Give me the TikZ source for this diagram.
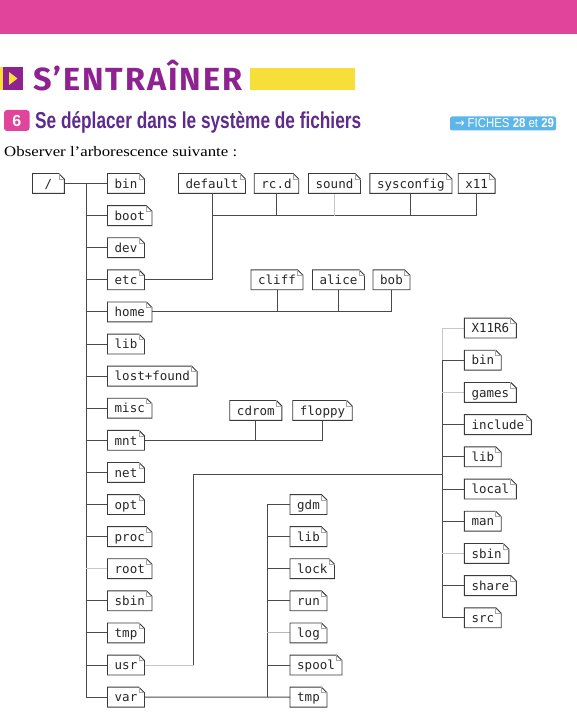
\documentclass[tikz,border=0pt]{standalone}
\usepackage{fontspec}
\usepackage{graphicx}
\setmainfont{Liberation Serif}
\newfontfamily\monofont{DejaVu Sans Mono}
\newfontfamily\titlefont[LetterSpace=6]{Fira Sans}
\newfontfamily\headfont{Liberation Sans}
\newfontfamily\symfont{DejaVu Sans}
\definecolor{bandpink}{HTML}{E1449B}
\definecolor{titlepurple}{HTML}{8E2290}
\definecolor{headpurple}{HTML}{5E2A8C}
\definecolor{hiyellow}{HTML}{F7DF3A}
\definecolor{badgeblue}{HTML}{5DB6EA}
\definecolor{linedark}{HTML}{4A4A4A}
\definecolor{linefaint}{HTML}{C8C8C8}
\definecolor{boxline}{HTML}{3A3A3A}
\begin{document}
\begin{tikzpicture}[x=1pt,y=-1pt,
  dir/.style={font=\monofont\fontsize{12.5}{14}\selectfont, text=black!85,
    inner xsep=7pt, inner ysep=0pt, minimum height=19.5pt,
    text height=11pt, text depth=1.5pt},
  conn/.style={draw=linedark, line width=1pt},
  faint/.style={draw=linefaint, line width=1pt},
  outline/.style={draw=boxline, line width=0.9pt, line join=miter},
  fold/.style={draw=gray!70, line width=0.7pt}]
\useasboundingbox (0,0) rectangle (577,719);
% header
\fill[bandpink] (0,0) rectangle (577,34.5);
\fill[hiyellow] (0,67) rectangle (3,90);
\fill[titlepurple] (3,67) rectangle (23,90);
\fill[hiyellow] (9,72) -- (17.5,78.5) -- (9,85) -- cycle;
\node[anchor=base west, inner sep=0, text=titlepurple] (title) at (33,90.5)
  {\resizebox{209pt}{\height}{\titlefont\bfseries\fontsize{32}{32}\selectfont S’ENTRAÎNER}};
\fill[hiyellow] (250,68) rectangle (355,90.5);
\fill[bandpink, rounded corners=3pt] (4,110) rectangle (29.5,131);
\node[text=white, inner sep=0, font=\headfont\bfseries\fontsize{16}{16}\selectfont] (num) at (16.8,120.5) {6};
\node[anchor=base west, inner sep=0, text=headpurple] (head) at (35,129)
  {\resizebox{326pt}{\height}{\headfont\bfseries\fontsize{23}{23}\selectfont Se déplacer dans le système de fichiers}};
\fill[badgeblue, rounded corners=2pt] (450,116.5) rectangle (556,130.5);
\node[text=white, inner sep=0, anchor=base] (fiches) at (504.5,128)
  {\resizebox{99pt}{\height}{\headfont\fontsize{13}{13}\selectfont{\symfont →} FICHES \textbf{28} et \textbf{29}}};
\node[anchor=base west, inner sep=0, text=black] (obs) at (4,157)
  {\resizebox{233pt}{\height}{\fontsize{14.5}{15}\selectfont Observer l’arborescence suivante :}};
% tree
\node[dir, anchor=west, minimum width=31.5pt] (r) at (32.5,183.5) {/};
\foreach \nm/\lb [count=\i from 0] in {bin/bin,boot/boot,dev/dev,etc/etc,home/home,lib/lib,lost/lost+found,misc/misc,mnt/mnt,net/net,opt/opt,proc/proc,rootd/root,sbin/sbin,tmp/tmp,usr/usr,var/var}
  \node[dir, anchor=west] (\nm) at (107.5,183.5+32.1*\i) {\lb};
% etc children
\node[dir] (e1) at (212,183.5) {default};
\node[dir] (e2) at (276.5,183.5) {rc.d};
\node[dir] (e3) at (334.5,183.5) {sound};
\node[dir] (e4) at (410.9,183.5) {sysconfig};
\node[dir] (e5) at (476.7,183.5) {x11};
% home children
\node[dir] (h1) at (277,279.8) {cliff};
\node[dir] (h2) at (338.5,279.8) {alice};
\node[dir] (h3) at (391.5,279.8) {bob};
% mnt children
\node[dir] (m1) at (255.8,410.4) {cdrom};
\node[dir] (m2) at (322.5,410.4) {floppy};
% usr children
\foreach \nm/\lb [count=\i from 0] in {u1/X11R6,u2/bin,u3/games,u4/include,u5/lib,u6/local,u7/man,u8/sbin,u9/share,u10/src}
  \node[dir, anchor=west] (\nm) at (464.3,328+32.2*\i) {\lb};
% var children
\foreach \nm/\lb [count=\i from 0] in {v1/gdm,v2/lib,v3/lock,v4/run,v5/log,v6/spool,v7/tmp}
  \node[dir, anchor=west] (\nm) at (290,504.5+32.1*\i) {\lb};
% trunk coordinates
\coordinate (t0) at (86,183.5);
\coordinate (ebar) at (212,215.6);
\coordinate (ut) at (442.3,328);
\coordinate (uk) at (193.7,474);
\coordinate (vt) at (267,504.5);
% main trunk
\draw[conn] (r.east) -- (bin.west);
\draw[conn] (t0) -- (t0 |- var.west);
\foreach \nm in {boot,dev,etc,home,lib,lost,misc,mnt,net,opt,proc,sbin,tmp,usr,var}
  \draw[conn] (t0 |- \nm.west) -- (\nm.west);
\draw[faint] (t0 |- rootd.west) -- (rootd.west);
% etc
\draw[conn] (etc.east) -| (e1.south);
\draw[conn] (e1 |- ebar) -- (e5 |- ebar);
\foreach \nm in {e2,e4,e5} \draw[conn] (\nm.south) -- (\nm |- ebar);
\draw[faint] (e3.south) -- (e3 |- ebar);
% home
\draw[conn] (home.east) -- (h3 |- home.east) -- (h3.south);
\foreach \nm in {h1,h2} \draw[conn] (\nm.south) -- (\nm |- home.east);
% mnt
\draw[conn] (mnt.east) -- (m2 |- mnt.east) -- (m2.south);
\draw[conn] (m1.south) -- (m1 |- mnt.east);
% usr
\draw[faint] (usr.east) -- (uk |- usr.east);
\draw[conn] (uk |- usr.east) -- (uk) -- (ut |- uk);
\draw[faint] (ut) -- (ut |- u2.west);
\draw[conn] (ut |- u2.west) -- (ut |- u10.west);
\foreach \nm in {u2,u4,u5,u6,u7,u9,u10} \draw[conn] (ut |- \nm.west) -- (\nm.west);
\foreach \nm in {u1,u3,u8} \draw[faint] (ut |- \nm.west) -- (\nm.west);
% var
\draw[conn] (var.east) -- (v7.west);
\draw[conn] (vt) -- (vt |- v7.west);
\foreach \nm in {v1,v2,v3,v4,v6} \draw[conn] (vt |- \nm.west) -- (\nm.west);
\draw[draw=gray!55, line width=1pt] (vt |- v5.west) -- (v5.west);
% box outlines with folded corner
\foreach \n in {r,bin,boot,dev,etc,home,lib,lost,misc,mnt,net,opt,proc,rootd,sbin,tmp,usr,var,e1,e2,e3,e4,e5,h1,h2,h3,m1,m2,u1,u2,u3,u4,u5,u6,u7,u8,u9,u10,v1,v2,v3,v4,v5,v6,v7}{
  \draw[outline] (\n.south west) -- (\n.north west) -- ([xshift=-5.5pt]\n.north east)
    -- ([yshift=-5.5pt]\n.north east) -- (\n.south east) -- cycle;
  \draw[fold] ([xshift=-5.5pt]\n.north east) -- ([xshift=-5.5pt,yshift=-5.5pt]\n.north east)
    -- ([yshift=-5.5pt]\n.north east);
}
\end{tikzpicture}
\end{document}
